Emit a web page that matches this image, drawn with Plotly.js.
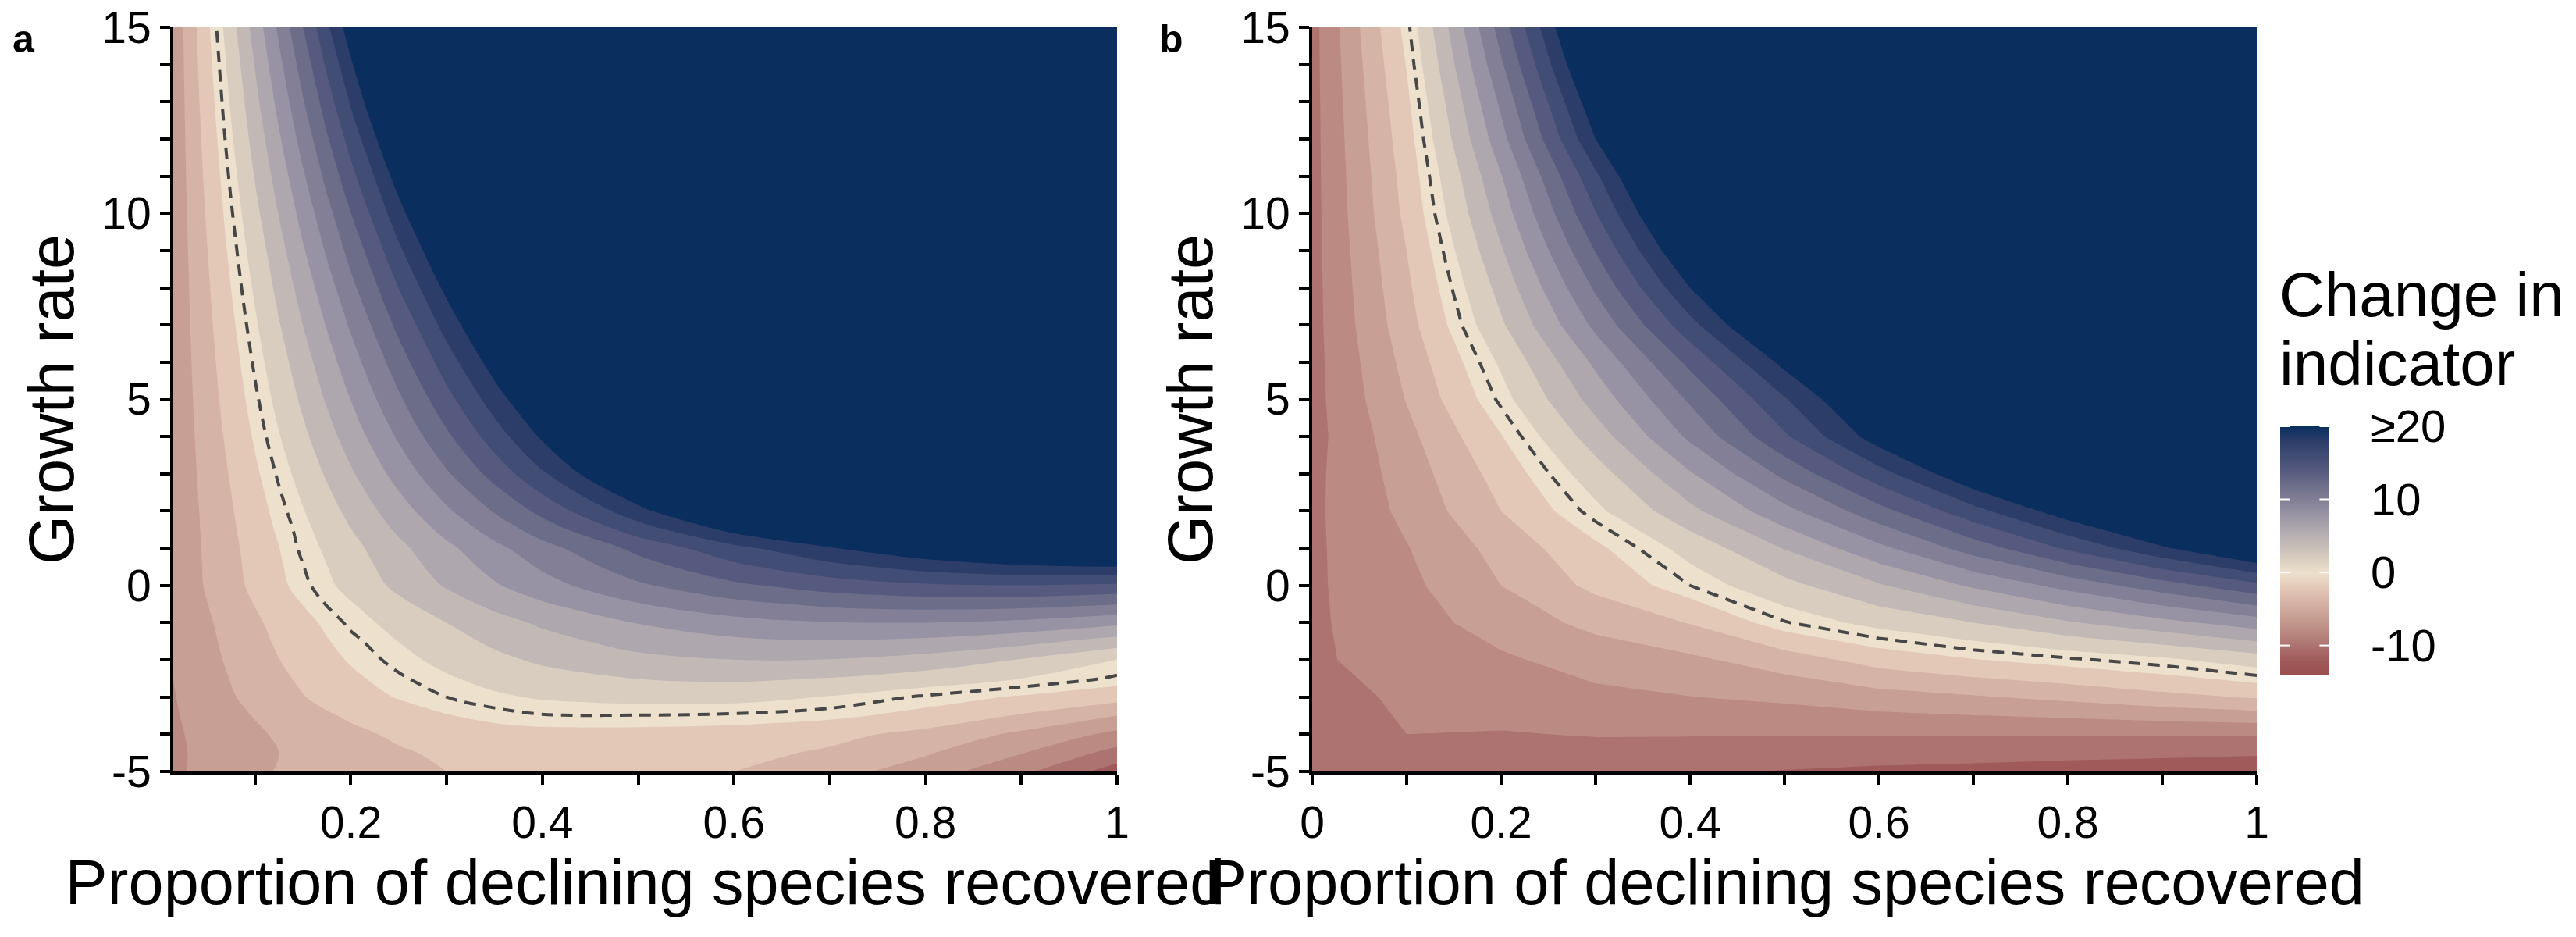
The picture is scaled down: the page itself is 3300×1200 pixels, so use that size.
<!DOCTYPE html>
<html>
<head>
<meta charset="utf-8">
<script src="https://cdn.plot.ly/plotly-3.0.1.min.js"></script>
<style>html,body{margin:0;padding:0;background:#fff}</style>
</head>
<body>
<div id="chart" style="width:3300px;height:1200px"></div>
<script>
// ---------------- data ----------------
// Panel a: proportion of declining species recovered (x) by growth rate (y); z = change in indicator (rows follow yA)
const xA = [0.0146, 0.04, 0.07, 0.1, 0.125, 0.15, 0.175, 0.2, 0.25, 0.3, 0.35, 0.4, 0.5, 0.6, 0.7, 0.8, 0.9, 1.0];
const yA = [-5, -4.5, -4, -3.5, -3, -2.5, -2, -1.5, -1, -0.5, 0, 0.5, 1, 1.5, 2, 3, 4, 5, 7.5, 10, 12.5, 15];
const zA = [
  [-7.4, -6.7, -6.0, -5.3, -4.9, -4.55, -4.2, -3.9, -3.4, -3.0, -2.8, -2.65, -2.6, -3.0, -4.2, -6.0, -8.5, -12.0],
  [-7.35, -6.75, -6.1, -5.5, -5.0, -4.6, -4.2, -3.8, -3.2, -2.7, -2.4, -2.2, -2.1, -2.4, -3.3, -4.8, -6.9, -9.7],
  [-7.3, -6.65, -5.95, -5.3, -4.75, -4.25, -3.8, -3.4, -2.7, -2.1, -1.75, -1.6, -1.6, -1.8, -2.4, -3.6, -5.4, -7.5],
  [-7.2, -6.45, -5.65, -4.9, -4.3, -3.75, -3.2, -2.75, -1.9, -1.1, -0.5, -0.1, -0.05, -0.2, -0.6, -1.6, -3.2, -5.0],
  [-7.1, -6.26, -5.31, -4.43, -3.74, -3.08, -2.47, -1.90, -0.87, 0.00, 0.70, 1.20, 1.60, 1.60, 0.90, -0.20, -1.20, -2.20],
  [-7.0, -6.10, -5.09, -4.14, -3.39, -2.67, -2.00, -1.37, -0.21, 0.78, 1.62, 2.27, 3.04, 3.31, 2.92, 2.10, 1.00, -0.20],
  [-6.9, -5.94, -4.86, -3.84, -3.03, -2.26, -1.52, -0.83, 0.45, 1.56, 2.53, 3.33, 4.48, 5.01, 4.93, 4.22, 2.89, 0.94],
  [-6.8, -5.80, -4.66, -3.58, -2.72, -1.90, -1.11, -0.36, 1.03, 2.27, 3.37, 4.31, 5.76, 6.62, 6.90, 6.58, 5.67, 4.17],
  [-6.7, -5.65, -4.46, -3.32, -2.40, -1.53, -0.68, 0.30, 1.64, 3.01, 4.24, 5.33, 7.09, 8.29, 8.93, 9.02, 8.54, 7.50],
  [-6.6, -5.46, -4.17, -2.92, -1.92, -0.95, 0.08, 0.87, 2.56, 4.11, 5.51, 6.78, 8.89, 10.44, 11.43, 11.86, 11.74, 11.05],
  [-6.5, -5.27, -3.87, -2.52, -1.43, -0.32, 0.64, 1.62, 3.48, 5.20, 6.79, 8.23, 10.69, 12.59, 13.93, 14.71, 14.94, 14.60],
  [-6.5, -5.23, -3.78, -2.37, -1.23, -0.05, 0.96, 2.00, 4.00, 5.88, 7.63, 9.25, 12.12, 14.50, 16.37, 17.74, 18.62, 18.99],
  [-6.5, -5.19, -3.69, -2.22, -1.03, 0.30, 1.28, 2.38, 4.52, 6.55, 8.47, 10.27, 13.56, 16.40, 18.81, 20.77, 22.29, 23.38],
  [-6.5, -5.14, -3.56, -2.01, -0.73, 0.52, 1.75, 2.96, 5.33, 7.61, 9.81, 11.94, 15.94, 19.63, 23.00, 26.04, 28.77, 31.18],
  [-6.5, -5.09, -3.43, -1.79, -0.44, 0.90, 2.23, 3.54, 6.13, 8.67, 11.16, 13.59, 18.32, 22.85, 27.18, 31.31, 35.24, 38.97],
  [-6.5, -4.95, -3.13, -1.30, 0.21, 1.72, 3.23, 4.74, 7.75, 10.75, 13.73, 16.71, 22.60, 28.50, 34.40, 40, 40, 40],
  [-6.5, -4.80, -2.79, -0.78, 0.90, 2.57, 4.25, 5.92, 9.27, 12.62, 15.97, 19.32, 26.02, 32.72, 39.42, 40, 40, 40],
  [-6.5, -4.65, -2.46, -0.27, 1.56, 3.38, 5.21, 7.03, 10.68, 14.33, 17.98, 21.63, 28.93, 36.23, 40, 40, 40, 40],
  [-6.5, -4.27, -1.63, 1.02, 3.22, 5.42, 7.62, 9.82, 14.22, 18.62, 23.02, 27.42, 36.2, 40, 40, 40, 40, 40],
  [-6.5, -3.83, -0.68, 2.47, 5.09, 7.72, 10.34, 12.97, 18.22, 23.47, 28.72, 33.97, 40, 40, 40, 40, 40, 40],
  [-6.5, -3.35, 0.37, 4.09, 7.19, 10.29, 13.39, 16.49, 22.69, 28.89, 35.09, 40, 40, 40, 40, 40, 40, 40],
  [-6.5, -2.84, 1.48, 5.80, 9.40, 13.00, 16.60, 20.20, 27.40, 34.60, 40, 40, 40, 40, 40, 40, 40, 40]
];

// Panel b
const xB = [0, 0.1, 0.2, 0.3, 0.4, 0.5, 0.6, 0.7, 0.8, 0.9, 1.0];
const yB = [-5, -4, -3, -2, -1, 0, 1, 2, 3, 4, 5, 6, 7, 8, 9, 10, 11, 12, 13, 14, 15];
const zB = [
  [-10.8, -10.2, -10.0, -10.2, -10.6, -11.1, -11.4, -11.6, -11.9, -12.2, -12.6],
  [-10.2, -9.0, -9.1, -8.9, -8.9, -8.9, -8.9, -8.9, -8.9, -8.85, -8.8],
  [-9.7, -8.7, -8.1, -7.55, -7.04, -6.6, -5.8, -5.2, -4.5, -3.6, -2.8],
  [-9.22, -8.4, -7.35, -6.05, -5.4, -4.0, -2.2, -1.1, -0.25, 0.64, 2.0],
  [-9.25, -8.0, -6.0, -4.5, -2.9, -0.1, 1.6, 3.0, 4.8, 6.4, 8.0],
  [-9.3, -7.5, -5.0, -2.5, 0, 2.4, 4.8, 7.3, 9.7, 12.1, 14.5],
  [-9.35, -7.1, -4.3, -1.4, 1.7, 5.1, 8.5, 11.9, 15.3, 18.7, 22.0],
  [-9.4, -6.5, -3.0, 0.55, 4.5, 8.4, 12.3, 16.3, 20.2, 24.1, 28.1],
  [-9.5, -6.1, -2.2, 2.1, 6.8, 11.5, 16.2, 20.9, 25.6, 30.2, 34.9],
  [-9.7, -5.6, -1.1, 4.0, 9.4, 14.7, 20.1, 25.4, 30.8, 36.1, 40],
  [-9.7, -4.9, 0.3, 5.8, 11.3, 16.8, 22.3, 27.8, 33.3, 38.8, 40],
  [-9.7, -4.4, 1.3, 7.4, 13.5, 19.6, 25.7, 31.8, 37.9, 40, 40],
  [-9.7, -3.8, 2.7, 9.5, 16.3, 23.1, 29.9, 36.7, 40, 40, 40],
  [-9.7, -3.4, 3.7, 11.3, 19.0, 26.7, 34.3, 40, 40, 40, 40],
  [-9.7, -3.0, 4.8, 13.1, 21.5, 29.9, 38.3, 40, 40, 40, 40],
  [-9.7, -2.5, 5.9, 14.9, 23.9, 32.9, 40, 40, 40, 40, 40],
  [-9.7, -2.2, 6.9, 16.6, 26.2, 35.9, 40, 40, 40, 40, 40],
  [-9.7, -1.8, 8.3, 19.0, 29.7, 40, 40, 40, 40, 40, 40],
  [-9.7, -1.4, 9.4, 20.7, 31.9, 40, 40, 40, 40, 40, 40],
  [-9.7, -0.9, 10.7, 22.6, 34.4, 40, 40, 40, 40, 40, 40],
  [-9.7, -0.4, 11.9, 24.3, 36.8, 40, 40, 40, 40, 40, 40]
];

// Tick labels
const xTickValsA = [0.2, 0.4, 0.6, 0.8, 1];
const xTickTextA = ['0.2', '0.4', '0.6', '0.8', '1'];
const xTickValsB = [0, 0.2, 0.4, 0.6, 0.8, 1];
const xTickTextB = ['0', '0.2', '0.4', '0.6', '0.8', '1'];
const yTickVals = [-5, 0, 5, 10, 15];
const yTickText = ['-5', '0', '5', '10', '15'];

// Legend scale
const legendRange = [-14, 20];
const legendTickVals = [-10, 0, 10, 20];
const legendTickText = ['-10', '0', '10', '\u226520'];

// ---------------- styles ----------------
const bandValues = [-14, -12, -10, -8, -6, -4, -2, 0, 2, 4, 6, 8, 10, 12, 14, 16, 18, 20];
const bandColors = ['#9a4f50', '#a05a5a', '#ac7370', '#bb8a82', '#c89f94', '#d6b3a7', '#e3c8b8', '#ede0cd',
  '#d9cdc0', '#c2b9b7', '#aea7ae', '#9893a4', '#827f96', '#6b6d89', '#565a7e', '#414d74', '#2c3d69', '#0a2f5f'];
const span = legendRange[1] - legendRange[0];
const colorscale = bandValues.map((v, i) => [(v - legendRange[0]) / span, bandColors[i]]);

const FONT = 'Liberation Sans, Arial, Helvetica, sans-serif';
const W = 3300, H = 1200;
const px2x = p => p / W;
const px2y = p => 1 - p / H;

function fillTrace(x, y, z, xa, ya, smooth) {
  return {
    type: 'contour', x: x, y: y, z: z, xaxis: xa, yaxis: ya,
    colorscale: colorscale, showscale: false, autocontour: false,
    contours: {start: -13, end: 19, size: 2, coloring: 'fill', showlines: false},
    line: {width: 0, smoothing: smooth}, hoverinfo: 'skip'
  };
}
function zeroTrace(x, y, z, xa, ya, smooth) {
  return {
    type: 'contour', x: x, y: y, z: z, xaxis: xa, yaxis: ya,
    showscale: false, autocontour: false,
    contours: {start: 0, end: 0, size: 1, coloring: 'none'},
    line: {color: '#474747', width: 4, dash: '15px,10px', smoothing: smooth}, hoverinfo: 'skip'
  };
}

const legendTrace = {
  type: 'heatmap', x: [0], y: legendRange, z: legendRange.map(v => [v]),
  xaxis: 'x3', yaxis: 'y3', colorscale: colorscale, zmin: legendRange[0], zmax: legendRange[1],
  zsmooth: 'best', showscale: false, hoverinfo: 'skip'
};

const data = [
  fillTrace(xA, yA, zA, 'x', 'y', 1),
  zeroTrace(xA, yA, zA, 'x', 'y', 1),
  fillTrace(xB, yB, zB, 'x2', 'y2', 0),
  zeroTrace(xB, yB, zB, 'x2', 'y2', 0),
  legendTrace
];

const tickFont = {family: FONT, size: 57, color: '#000'};
const titleFont = {family: FONT, size: 81, color: '#000'};
function xAxis(domain, range, tv, tt, anchor) {
  return {
    domain: domain, range: range, anchor: anchor,
    tickmode: 'array', tickvals: tv, ticktext: tt, tickfont: tickFont, ticklabeloverflow: 'allow',
    ticks: 'outside', ticklen: 13, tickwidth: 4, tickcolor: '#000',
    minor: {dtick: 0.1, tick0: 0, ticks: 'outside', ticklen: 13, tickwidth: 4, tickcolor: '#000', showgrid: false},
    showline: true, linewidth: 4, linecolor: '#000', showgrid: false, zeroline: false,
    title: {text: 'Proportion of declining species recovered', font: titleFont, standoff: 17},
    automargin: false, fixedrange: true
  };
}
function yAxis(anchor) {
  return {
    domain: [px2y(988), px2y(35)], range: [-5, 15], anchor: anchor,
    tickmode: 'array', tickvals: yTickVals, ticktext: yTickText, tickfont: tickFont, ticklabeloverflow: 'allow',
    ticks: 'outside', ticklen: 13, tickwidth: 4, tickcolor: '#000',
    minor: {dtick: 1, tick0: 0, ticks: 'outside', ticklen: 13, tickwidth: 4, tickcolor: '#000', showgrid: false},
    showline: true, linewidth: 4, linecolor: '#000', showgrid: false, zeroline: false,
    title: {text: 'Growth rate', font: titleFont, standoff: 10},
    automargin: false, fixedrange: true
  };
}

// legend bar geometry (pixels)
const barL = 2921, barR = 2984, barT = 546, barB = 864;
const legendShapes = [];
legendTickVals.forEach(v => {
  legendShapes.push({type: 'line', xref: 'x3', yref: 'y3', x0: -0.5, x1: -0.3, y0: v, y1: v, line: {color: '#fff', width: 2}, layer: 'above'});
  legendShapes.push({type: 'line', xref: 'x3', yref: 'y3', x0: 0.3, x1: 0.5, y0: v, y1: v, line: {color: '#fff', width: 2}, layer: 'above'});
});

const layout = {
  width: W, height: H, margin: {l: 0, r: 0, t: 0, b: 0},
  paper_bgcolor: '#fff', plot_bgcolor: '#fff', showlegend: false,
  font: {family: FONT, color: '#000'},
  xaxis: xAxis([px2x(222), px2x(1431)], [0.0146, 1], xTickValsA, xTickTextA, 'y'),
  yaxis: yAxis('x'),
  xaxis2: xAxis([px2x(1681), px2x(2891)], [0, 1], xTickValsB, xTickTextB, 'y2'),
  yaxis2: yAxis('x2'),
  xaxis3: {domain: [px2x(barL), px2x(barR)], range: [-0.5, 0.5], anchor: 'y3', visible: false, fixedrange: true},
  yaxis3: {domain: [px2y(barB), px2y(barT)], range: legendRange, anchor: 'x3', side: 'right',
    tickmode: 'array', tickvals: legendTickVals, ticktext: legendTickText, tickfont: {family: FONT, size: 58, color: '#000'},
    ticklabeloverflow: 'allow',
    ticks: '', showline: false, showgrid: false, zeroline: false, ticklabelstandoff: 52, fixedrange: true},
  shapes: legendShapes,
  annotations: [
    {text: '<b>a</b>', x: px2x(30), y: px2y(50), xref: 'paper', yref: 'paper', showarrow: false,
      xanchor: 'center', yanchor: 'middle', font: {family: FONT, size: 50, color: '#000'}},
    {text: '<b>b</b>', x: px2x(1500), y: px2y(50), xref: 'paper', yref: 'paper', showarrow: false,
      xanchor: 'center', yanchor: 'middle', font: {family: FONT, size: 50, color: '#000'}},
    {text: 'Change in', x: px2x(2918), y: px2y(377), xref: 'paper', yref: 'paper', showarrow: false,
      xanchor: 'left', yanchor: 'middle', font: {family: FONT, size: 80, color: '#000'}},
    {text: 'indicator', x: px2x(2918), y: px2y(466), xref: 'paper', yref: 'paper', showarrow: false,
      xanchor: 'left', yanchor: 'middle', font: {family: FONT, size: 80, color: '#000'}}
  ]
};

Plotly.newPlot('chart', data, layout, {staticPlot: true, displayModeBar: false});
</script>
</body>
</html>
